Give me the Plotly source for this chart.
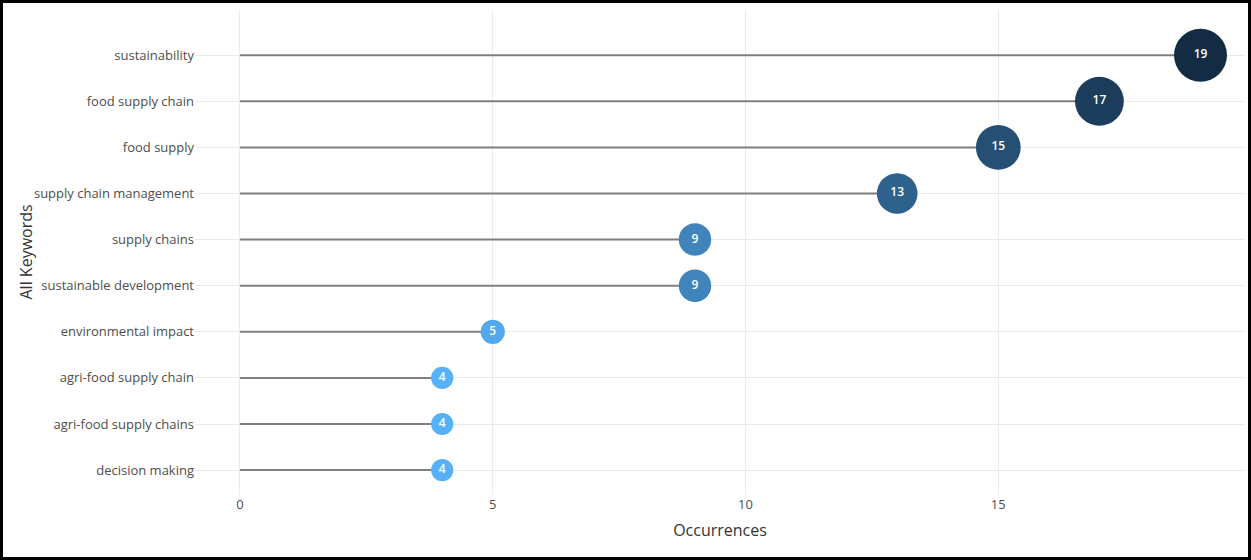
import plotly.graph_objects as go

# keywords, top to bottom as they appear in the chart
keywords = [
    "sustainability",
    "food supply chain",
    "food supply",
    "supply chain management",
    "supply chains",
    "sustainable development",
    "environmental impact",
    "agri-food supply chain",
    "agri-food supply chains",
    "decision making",
]
occurrences = [19, 17, 15, 13, 9, 9, 5, 4, 4, 4]

x_ticks = [0, 5, 10, 15]

font_family = "Open Sans"

# stems from 0 to the value, one segment per keyword
stem_x = []
stem_y = []
for k, v in zip(keywords, occurrences):
    stem_x += [0, v, None]
    stem_y += [k, k, None]

# marker diameter grows with the count
marker_sizes = [14 + 2.05 * v for v in occurrences]

fig = go.Figure()

fig.add_trace(go.Scatter(
    x=stem_x, y=stem_y, mode="lines",
    line=dict(color="#7f7f7f", width=2),
    hoverinfo="skip", showlegend=False,
))

fig.add_trace(go.Scatter(
    x=occurrences, y=keywords, mode="markers+text",
    text=[str(v) for v in occurrences],
    textposition="middle center",
    textfont=dict(family=font_family, size=12, color="white", weight=600),
    marker=dict(
        size=marker_sizes,
        color=occurrences,
        colorscale=[[0, "#56B1F7"], [1, "#132B43"]],
        cmin=min(occurrences), cmax=max(occurrences),
        line=dict(width=0),
        opacity=1,
    ),
    showlegend=False,
))

W, H = 1251, 560
m = dict(l=195, r=6, t=10, b=65)
pw = W - m["l"] - m["r"]
ph = H - m["t"] - m["b"]

fig.update_layout(
    width=W, height=H,
    margin=m,
    paper_bgcolor="white",
    plot_bgcolor="white",
    font=dict(family=font_family, color="#4d4d4d", size=13),
    xaxis=dict(
        title=dict(text="Occurrences", font=dict(size=16, color="#333333"), standoff=12),
        range=[-0.89, 19.88],
        tickvals=x_ticks,
        showgrid=True, gridcolor="#ebebeb", gridwidth=1,
        zeroline=False, showline=False, ticks="",
        tickfont=dict(size=13, color="#4d4d4d"),
    ),
    yaxis=dict(
        categoryorder="array",
        categoryarray=keywords[::-1],
        range=[-0.54, 9.98],
        showgrid=True, gridcolor="#ebebeb", gridwidth=1,
        zeroline=False, showline=False, ticks="",
        tickfont=dict(size=13, color="#4d4d4d"),
    ),
    annotations=[dict(
        text="All Keywords", textangle=-90,
        xref="paper", yref="paper",
        x=-(m["l"] - 25) / pw, y=0.5,
        xanchor="center", yanchor="middle",
        showarrow=False,
        font=dict(size=16, color="#333333"),
    )],
    shapes=[dict(
        type="rect", xref="paper", yref="paper",
        x0=-(m["l"] - 1.5) / pw, x1=1 + (m["r"] - 1.5) / pw,
        y0=-(m["b"] - 1.5) / ph, y1=1 + (m["t"] - 1.5) / ph,
        line=dict(color="black", width=3),
        fillcolor="rgba(0,0,0,0)",
    )],
)

# page body has a default 8px margin; drop it so the figure sits at the corner
fig.write_html(
    "out.html",
    config={"displayModeBar": False},
    post_script="document.body.style.margin='0';",
)
